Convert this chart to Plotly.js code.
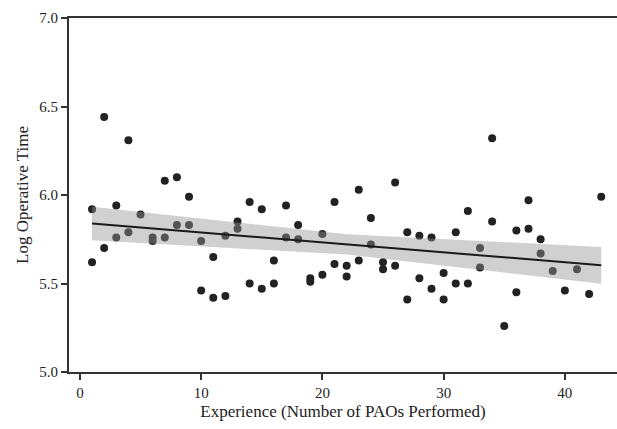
<!DOCTYPE html>
<html>
<head>
<meta charset="utf-8">
<script src="https://cdn.plot.ly/plotly-3.0.1.min.js"></script>
<style>html,body{margin:0;padding:0;background:#fff;}#chart{width:617px;height:429px;}</style>
</head>
<body>
<div id="chart"></div>
<script>
// Experience (number of PAOs performed) and log operative time
const experience = [
  1, 1, 2, 2, 3, 3, 4, 4, 5, 6, 6, 7, 7, 8, 8, 9, 9, 10, 10, 11, 11, 12, 12,
  13, 13, 14, 14, 15, 15, 16, 16, 17, 17, 18, 18, 19, 19, 20, 20, 21, 21,
  22, 22, 23, 23, 24, 24, 25, 25, 26, 26, 27, 27, 28, 28, 29, 29, 30, 30,
  31, 31, 32, 32, 33, 33, 34, 34, 35, 36, 36, 37, 37, 38, 38, 39, 40, 41, 42, 43
];
const logOpTime = [
  5.92, 5.62, 6.44, 5.70, 5.94, 5.76, 6.31, 5.79, 5.89, 5.76, 5.74, 6.08, 5.76, 6.10, 5.83, 5.99, 5.83, 5.74, 5.46, 5.65, 5.42, 5.77, 5.43,
  5.85, 5.81, 5.96, 5.50, 5.92, 5.47, 5.63, 5.50, 5.94, 5.76, 5.83, 5.75, 5.53, 5.51, 5.78, 5.55, 5.96, 5.61,
  5.60, 5.54, 6.03, 5.63, 5.87, 5.72, 5.62, 5.58, 6.07, 5.60, 5.79, 5.41, 5.77, 5.53, 5.76, 5.47, 5.56, 5.41,
  5.79, 5.50, 5.91, 5.50, 5.70, 5.59, 6.32, 5.85, 5.26, 5.80, 5.45, 5.97, 5.81, 5.75, 5.67, 5.57, 5.46, 5.58, 5.44, 5.99
];
// Fitted line and 95% confidence band
const fitX    = [1,    22,    43];
const fitY    = [5.839, 5.721, 5.603];
const ciUpper = [5.933, 5.778, 5.706];
const ciLower = [5.744, 5.664, 5.499];
const xTicks = [0, 10, 20, 30, 40];
const yTicks = [5.0, 5.5, 6.0, 6.5, 7.0];

const axisColor = '#333';
const fontFam = '"Liberation Serif", "Times New Roman", serif';

const points = {
  x: experience, y: logOpTime, type: 'scatter', mode: 'markers',
  marker: {size: 8, color: '#222'}, hoverinfo: 'x+y', showlegend: false
};
const band = {
  x: fitX.concat(fitX.slice().reverse()),
  y: ciUpper.concat(ciLower.slice().reverse()),
  type: 'scatter', mode: 'lines', fill: 'toself',
  fillcolor: 'rgba(149,149,149,0.44)', line: {width: 0, color: 'rgba(0,0,0,0)'},
  hoverinfo: 'skip', showlegend: false
};
const fit = {
  x: fitX, y: fitY, type: 'scatter', mode: 'lines',
  line: {color: '#1a1a1a', width: 2}, hoverinfo: 'skip', showlegend: false
};

const layout = {
  width: 617, height: 429,
  margin: {l: 69, r: 0, t: 18, b: 57},
  paper_bgcolor: '#fff', plot_bgcolor: '#fff',
  font: {family: fontFam, color: '#222', size: 15},
  showlegend: false,
  xaxis: {
    range: [-0.9, 44.3], tickvals: xTicks, ticktext: xTicks.map(String),
    showgrid: false, zeroline: false, showline: true, linecolor: axisColor, linewidth: 2,
    mirror: true, ticks: 'outside', ticklen: 6, tickwidth: 2, tickcolor: axisColor,
    tickfont: {family: fontFam, size: 15, color: '#222'},
    title: {text: 'Experience (Number of PAOs Performed)', font: {family: fontFam, size: 17, color: '#222'}, standoff: 5}
  },
  yaxis: {
    range: [5.0, 7.0], tickvals: yTicks, ticktext: yTicks.map(v => v.toFixed(1)),
    showgrid: false, zeroline: false, showline: true, linecolor: axisColor, linewidth: 2,
    ticks: 'outside', ticklen: 6, tickwidth: 2, tickcolor: axisColor,
    tickfont: {family: fontFam, size: 15, color: '#222'},
    title: {text: 'Log Operative Time', font: {family: fontFam, size: 17, color: '#222'}, standoff: 6}
  }
};

Plotly.newPlot('chart', [points, band, fit], layout, {displayModeBar: false, staticPlot: true});
</script>
</body>
</html>
